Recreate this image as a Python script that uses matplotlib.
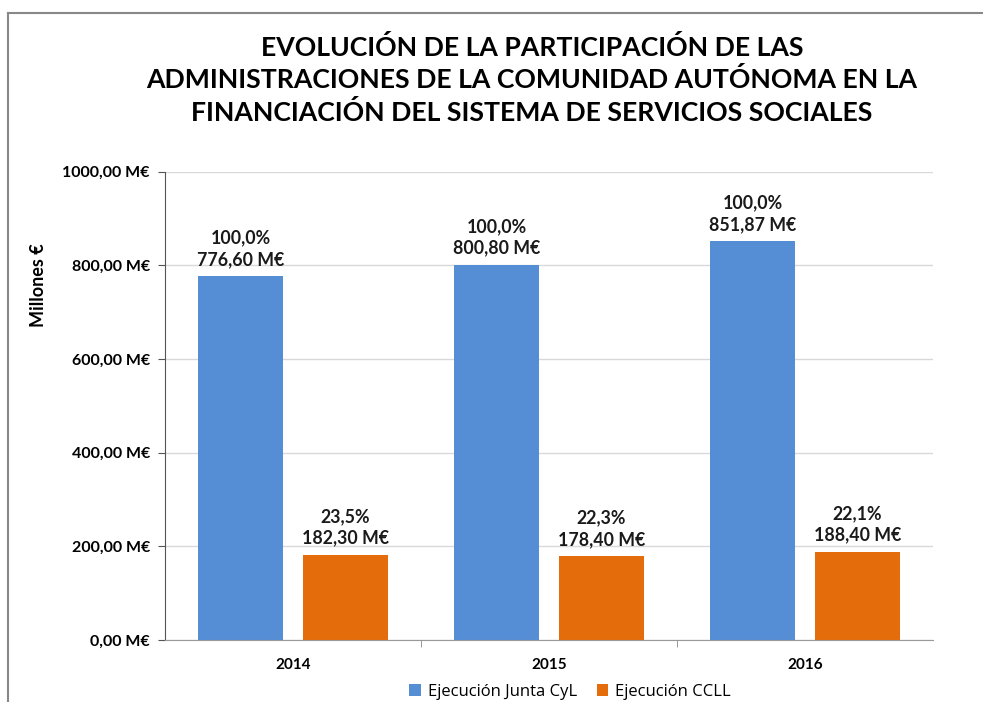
import matplotlib.pyplot as plt
from matplotlib.lines import Line2D
import numpy as np

# Data
years = ['2014', '2015', '2016']
junta = [776.60, 800.80, 851.87]
ccll = [182.30, 178.40, 188.40]
junta_pct = ['100,0%', '100,0%', '100,0%']
ccll_pct = ['23,5%', '22,3%', '22,1%']
yticks = [0, 200, 400, 600, 800, 1000]

blue = '#558ED5'
orange = '#E46C0A'

plt.rcParams['font.family'] = ['Lato', 'DejaVu Sans']

fig = plt.figure(figsize=(9.83, 7.02), dpi=100)
ax = fig.add_axes([0.168, 0.0883, 0.781, 0.667])

x = np.arange(len(years))
w = 0.33
b1 = ax.bar(x - 0.205, junta, w, color=blue, label='Ejecución Junta CyL')
b2 = ax.bar(x + 0.205, ccll, w, color=orange, label='Ejecución CCLL')

def fmt(v):
    return f'{v:.2f}'.replace('.', ',') + ' M€'

for bars, vals, pcts in [(b1, junta, junta_pct), (b2, ccll, ccll_pct)]:
    for r, v, p in zip(bars, vals, pcts):
        ax.annotate(p + '\n' + fmt(v), (r.get_x() + r.get_width() / 2, v),
                    xytext=(0, 6), textcoords='offset points',
                    ha='center', va='bottom', fontsize=12.8, fontweight='bold',
                    color='#1a1a1a', linespacing=1.32)

ax.set_xlim(-0.5, 2.5)
ax.set_ylim(0, 1000)
ax.set_yticks(yticks)
ax.set_yticklabels([fmt(t) for t in yticks], fontsize=11.5, fontweight='bold')
ax.set_xticks(x)
ax.set_xticklabels(years, fontsize=11, fontweight='bold')
ax.set_xticks([0.5, 1.5], minor=True)
ax.tick_params(axis='x', which='major', length=0, pad=13)
ax.tick_params(axis='x', which='minor', length=5, color='#888888', direction='out')
ax.tick_params(axis='y', length=5, color='#555555', pad=6)
ax.grid(axis='y', color='#d9d9d9', linewidth=1)
ax.set_axisbelow(True)
for s in ['top', 'right']:
    ax.spines[s].set_visible(False)
ax.spines['left'].set_color('#555555')
ax.spines['bottom'].set_color('#999999')

fig.text(38 / 983, 1 - 285 / 702, 'Millones €', rotation=90, ha='center', va='center',
         fontsize=13, fontweight='bold')

fig.text(532 / 983, 1 - 80 / 702,
         'EVOLUCIÓN DE LA PARTICIPACIÓN DE LAS\n'
         'ADMINISTRACIONES DE LA COMUNIDAD AUTÓNOMA EN LA\n'
         'FINANCIACIÓN DEL SISTEMA DE SERVICIOS SOCIALES',
         ha='center', va='center', fontsize=19.2, fontweight='bold', linespacing=1.36)

fig.legend(loc='center', bbox_to_anchor=(570 / 983, 1 - 692 / 702), ncol=2, frameon=False,
           handlelength=0.7, handleheight=0.7, handletextpad=0.4,
           columnspacing=1.2, prop={'family': 'Open Sans', 'size': 12})

# outer frame lines
fig.add_artist(Line2D([8 / 983, 1], [1 - 13 / 702] * 2, color='#888888', lw=1.5))
fig.add_artist(Line2D([8 / 983] * 2, [0, 1 - 13 / 702], color='#888888', lw=1.5))

fig.savefig('out.png', dpi=100)
